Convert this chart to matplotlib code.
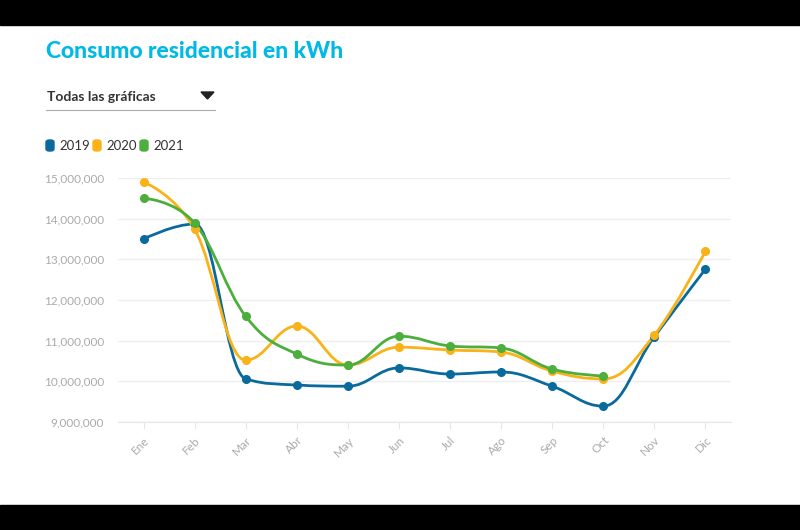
import numpy as np
import matplotlib.pyplot as plt
from matplotlib.path import Path
from matplotlib.patches import PathPatch, Rectangle, FancyBboxPatch
from matplotlib.ticker import FuncFormatter

meses = ['Ene', 'Feb', 'Mar', 'Abr', 'May', 'Jun', 'Jul', 'Ago', 'Sep', 'Oct', 'Nov', 'Dic']
c2019 = [13.50, 13.87, 10.06, 9.91, 9.88, 10.33, 10.18, 10.23, 9.88, 9.39, 11.10, 12.76]
c2020 = [14.90, 13.74, 10.52, 11.36, 10.40, 10.84, 10.77, 10.72, 10.25, 10.06, 11.14, 13.20]
c2021 = [14.50, 13.89, 11.60, 10.67, 10.40, 11.11, 10.87, 10.82, 10.30, 10.13]
series = [('2019', c2019, '#0b6a9c'), ('2020', c2020, '#fab219'), ('2021', c2021, '#4cae3d')]


def spline_path(xs, ys, smooth=1.5):
    # curva tipo "spline" de Highcharts
    n = len(xs)
    den = smooth + 1
    lc = [(xs[i], ys[i]) for i in range(n)]
    rc = [(xs[i], ys[i]) for i in range(n)]
    for i in range(1, n - 1):
        x, y = xs[i], ys[i]
        lx, ly = xs[i - 1], ys[i - 1]
        nx, ny = xs[i + 1], ys[i + 1]
        lcx = (smooth * x + lx) / den
        lcy = (smooth * y + ly) / den
        rcx = (smooth * x + nx) / den
        rcy = (smooth * y + ny) / den
        if rcx != lcx:
            corr = (rcy - lcy) * (rcx - x) / (rcx - lcx) + y - rcy
            lcy += corr
            rcy += corr
        if lcy > ly and lcy > y:
            lcy = max(ly, y)
            rcy = 2 * y - lcy
        elif lcy < ly and lcy < y:
            lcy = min(ly, y)
            rcy = 2 * y - lcy
        if rcy > ny and rcy > y:
            rcy = max(ny, y)
            lcy = 2 * y - rcy
        elif rcy < ny and rcy < y:
            rcy = min(ny, y)
            lcy = 2 * y - rcy
        lc[i] = (lcx, lcy)
        rc[i] = (rcx, rcy)
    verts = [(xs[0], ys[0])]
    codes = [Path.MOVETO]
    for i in range(1, n):
        verts += [rc[i - 1], lc[i], (xs[i], ys[i])]
        codes += [Path.CURVE4] * 3
    return Path(verts, codes)


plt.rcParams['font.family'] = ['Lato', 'DejaVu Sans']
fig = plt.figure(figsize=(8, 5.3), dpi=100)

# bandas negras
fig.patches.append(Rectangle((0, 0), 1, 25 / 530, transform=fig.transFigure, color='black', zorder=-5))
fig.patches.append(Rectangle((0, 1 - 25 / 530), 1, 25 / 530, transform=fig.transFigure, color='black', zorder=-5))

fig.text(46 / 800, 1 - 51 / 530, 'Consumo residencial en kWh', color='#00b9e4',
         fontsize=16.5, fontweight='black', va='center', ha='left')
fig.text(47 / 800, 1 - 97 / 530, 'Todas las gráficas', color='#333333',
         fontsize=10, fontweight='bold', va='center', ha='left')
fig.patches.append(plt.Polygon([(201 / 800, 1 - 92 / 530), (214 / 800, 1 - 92 / 530), (207.5 / 800, 1 - 99 / 530)],
                               closed=True, transform=fig.transFigure, color='#222222'))
fig.lines.append(plt.Line2D([46 / 800, 215 / 800], [1 - 110 / 530] * 2, transform=fig.transFigure,
                            color='#aaaaaa', lw=0.8))

# leyenda
lx = 46
for name, vals, col in series:
    fig.patches.append(FancyBboxPatch((lx / 800, 1 - 151 / 530), 8 / 800, 11 / 530,
                                      boxstyle='round,pad=0,rounding_size=0.004',
                                      transform=fig.transFigure, color=col))
    fig.text((lx + 13) / 800, 1 - 146 / 530, name, color='#333333', fontsize=9.5, va='center', ha='left')
    lx += 47

ax = fig.add_axes([118 / 800, 108 / 530, 613 / 800, 244 / 530])
x = np.arange(len(meses))
for name, vals, col in series:
    xs = list(range(len(vals)))
    ax.add_patch(PathPatch(spline_path(xs, vals), facecolor='none', edgecolor=col, lw=2.0,
                           capstyle='round', joinstyle='round', zorder=3))
    ax.plot(xs, vals, 'o', color=col, markersize=5.5, zorder=4)

ax.set_xlim(-0.5, 11.5)
ax.set_ylim(9, 15)
ax.set_yticks(np.arange(9, 15.1, 1))
ax.yaxis.set_major_formatter(FuncFormatter(lambda v, p: '{:,.0f}'.format(v * 1e6)))
ax.set_xticks(x)
ax.set_xticklabels(meses, rotation=45, ha='right', rotation_mode='anchor')
ax.grid(axis='y', color='#eeeeee', lw=1)
ax.set_axisbelow(True)
for s in ['top', 'right', 'left']:
    ax.spines[s].set_visible(False)
ax.spines['bottom'].set_color('#e6e6e6')
ax.tick_params(axis='y', length=0, labelsize=8.5, labelcolor='#aaaaaa', pad=10)
ax.tick_params(axis='x', length=5, color='#e6e6e6', labelsize=8.5, labelcolor='#aaaaaa', pad=4)

fig.savefig('out.png', dpi=100)
